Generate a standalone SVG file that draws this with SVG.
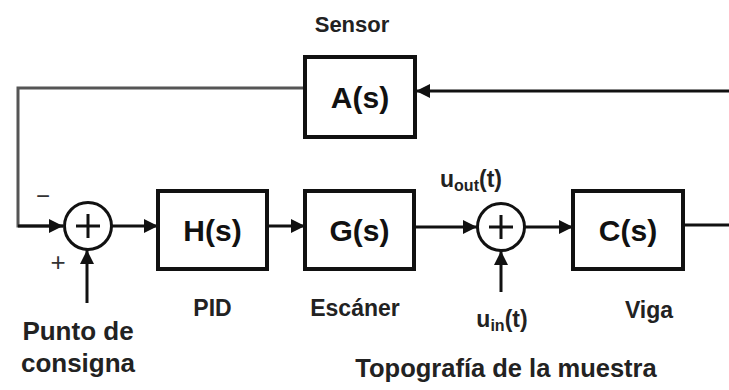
<svg xmlns="http://www.w3.org/2000/svg" width="729" height="390" viewBox="0 0 729 390">
<style>
.box{fill:#fff;stroke:#111;stroke-width:4}
.sum{fill:#fff;stroke:#111;stroke-width:3}
.ln{fill:none;stroke:#111;stroke-width:3}
.gl{fill:none;stroke:#555;stroke-width:3}
.bl{font-family:"Liberation Sans",Arial,sans-serif;font-weight:bold;fill:#111;text-anchor:middle}
.lab{font-family:"Liberation Sans",Arial,sans-serif;font-weight:bold;fill:#222;text-anchor:middle}
</style>
<defs>
<marker id="ah" viewBox="0 0 10 10" refX="10" refY="5" markerWidth="14" markerHeight="14" markerUnits="userSpaceOnUse" orient="auto">
<path d="M0,0 L10,5 L0,10 Z" fill="#111"/>
</marker>
</defs>
<g id="connectors">
<path class="gl" d="M305,88 H18 V226 H63" />
<path class="ln" d="M18,226 H63" marker-end="url(#ah)"/>
<path class="ln" d="M729,91 H416" marker-end="url(#ah)"/>
<path class="ln" d="M112,226 H158" marker-end="url(#ah)"/>
<path class="ln" d="M267,226 H305" marker-end="url(#ah)"/>
<path class="ln" d="M414,227 H477" marker-end="url(#ah)"/>
<path class="ln" d="M525,227 H573" marker-end="url(#ah)"/>
<path class="ln" d="M683,225 H729"/>
<path class="ln" d="M87,303 V250" marker-end="url(#ah)"/>
<path class="ln" d="M501,292 V251" marker-end="url(#ah)"/>
</g>
<g id="sensor">
<rect class="box" x="305" y="57" width="110" height="80"/>
<text class="bl" x="360" y="108" font-size="30">A(s)</text>
<text class="lab" x="352" y="32" font-size="22">Sensor</text>
</g>
<g id="sum1">
<circle class="sum" cx="88" cy="226" r="23.5"/>
<path class="ln" d="M76,226 H100 M88,214 V238" stroke-width="2.5"/>
<text x="43" y="204" font-family="Liberation Sans, Arial, sans-serif" font-size="24" fill="#333" text-anchor="middle">−</text>
<text x="58" y="271" font-family="Liberation Sans, Arial, sans-serif" font-size="26" fill="#333" text-anchor="middle">+</text>
</g>
<g id="pid">
<rect class="box" x="158" y="191" width="109" height="78"/>
<text class="bl" x="212.5" y="241" font-size="30">H(s)</text>
<text class="lab" x="212.5" y="316" font-size="23">PID</text>
</g>
<g id="scanner">
<rect class="box" x="305" y="191" width="109" height="78"/>
<text class="bl" x="359.5" y="241" font-size="30">G(s)</text>
<text class="lab" x="355" y="316" font-size="23">Escáner</text>
</g>
<g id="sum2">
<circle class="sum" cx="501" cy="227" r="23.5"/>
<path class="ln" d="M489,227 H513 M501,215 V239" stroke-width="2.5"/>
<text class="lab" x="471" y="187" font-size="23">u<tspan font-size="16" dy="4">out</tspan><tspan dy="-4">(t)</tspan></text>
<text class="lab" x="502" y="327" font-size="23">u<tspan font-size="16" dy="4">in</tspan><tspan dy="-4">(t)</tspan></text>
</g>
<g id="beam">
<rect class="box" x="573" y="191" width="110" height="78"/>
<text class="bl" x="628" y="241" font-size="30">C(s)</text>
<text class="lab" x="649" y="318" font-size="23">Viga</text>
</g>
<g id="setpoint">
<text class="lab" x="78" y="340" font-size="26">Punto de</text>
<text class="lab" x="78" y="372" font-size="26">consigna</text>
</g>
<g id="topography">
<text class="lab" x="506" y="377" font-size="25.5">Topografía de la muestra</text>
</g>
</svg>
